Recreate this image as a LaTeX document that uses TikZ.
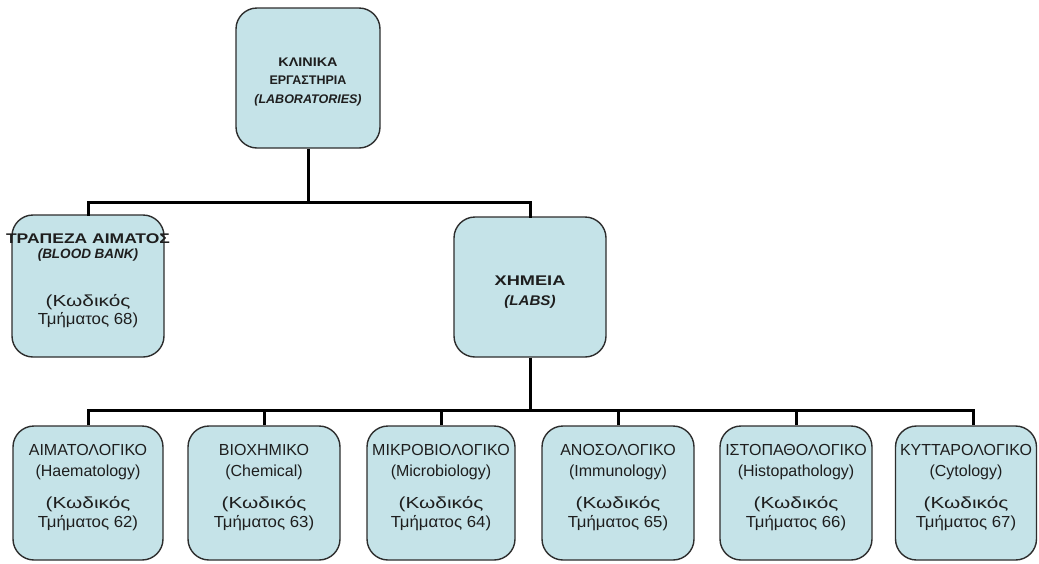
\documentclass[tikz,border=0pt]{standalone}
\usepackage{fontspec}
\usepackage{graphicx}
\setmainfont{Liberation Sans}
\definecolor{boxfill}{RGB}{197,227,232}
\definecolor{boxline}{RGB}{45,45,45}
\definecolor{ink}{RGB}{30,30,30}
\tikzset{
  unit/.style={draw=boxline, fill=boxfill, line width=1.4pt, rounded corners=21pt, inner sep=0pt},
  caption/.style={align=center, text=ink, inner sep=0pt},
  conn/.style={draw=black, line width=3pt},
}
\newcommand{\headfont}{\fontsize{12.5}{18.5}\selectfont\bfseries}
\newcommand{\bodyfont}{\fontsize{16}{20}\selectfont}
% horizontal stretch of one line of text
\newcommand{\wide}[2]{\scalebox{#1}[1]{#2}}
\begin{document}
\begin{tikzpicture}[x=1pt,y=-1pt]
\useasboundingbox (0,0) rectangle (1039,563);

% root and second level
\node[unit, minimum width=144pt, minimum height=140pt] (lab) at (308,78) {};
\node[caption, font=\headfont] (labt) at ([yshift=-3.5pt]lab.center)
  {\wide{1.15}{ΚΛΙΝΙΚΑ}\\ΕΡΓΑΣΤΗΡΙΑ\\\textit{(LABORATORIES)}};

\node[unit, minimum width=152pt, minimum height=142pt] (blood) at (88,286) {};
\node[caption, font=\bodyfont] (bloodt) at ([yshift=5.5pt]blood.center)
  {{\fontsize{14}{15}\selectfont\bfseries\wide{1.25}{ΤΡΑΠΕΖΑ ΑΙΜΑΤΟΣ}}\\[-5pt]
   {\fontsize{13.5}{15}\selectfont\bfseries\itshape (BLOOD BANK)}\\[28pt]
   \wide{1.3}{(Κωδικός}\\[-2pt]\wide{1.05}{Τμήματος 68)}};

\node[unit, minimum width=152pt, minimum height=140pt] (chem) at (530,287) {};
\node[caption, font=\fontsize{14}{20}\selectfont\bfseries] (chemt) at ([yshift=-5.5pt]chem.center)
  {\wide{1.3}{ΧΗΜΕΙΑ}\\\wide{1.08}{\textit{(LABS)}}};

% departments
\foreach \n/\cx/\w/\gr/\en/\code in {
  d1/88/150/ΑΙΜΑΤΟΛΟΓΙΚΟ/Haematology/62,
  d2/264/152/ΒΙΟΧΗΜΙΚΟ/Chemical/63,
  d3/441/148/ΜΙΚΡΟΒΙΟΛΟΓΙΚΟ/Microbiology/64,
  d4/618/152/ΑΝΟΣΟΛΟΓΙΚΟ/Immunology/65,
  d5/796/152/ΙΣΤΟΠΑΘΟΛΟΓΙΚΟ/Histopathology/66,
  d6/966/141/ΚΥΤΤΑΡΟΛΟΓΙΚΟ/Cytology/67}{
  \node[unit, minimum width=\w pt, minimum height=134pt] (\n) at (\cx,493) {};
  \node[caption, font=\bodyfont] (\n t) at ([yshift=5pt]\n.center)
    {\gr\\[1pt](\en)\\[12pt]\wide{1.3}{(Κωδικός}\\[-1pt]\wide{1.05}{Τμήματος \code)}};
}

% connectors
\coordinate (busA) at (308,202);
\coordinate (busB) at (530,410);
\draw[conn] (lab.south) -- (lab.south |- busA);
\draw[conn, line cap=rect] (blood.north) -- (blood.north |- busA) -- (chem.north |- busA) -- (chem.north);
\draw[conn] (chem.south) -- (busB);
\draw[conn] (d1.north) -- (d1.north |- busB) -- ([xshift=7pt]d6.north |- busB) -- ([xshift=7pt]d6.north);
\foreach \n in {d2,d3,d4,d5}{
  \draw[conn] (\n.north) -- (\n.north |- busB);
}
\end{tikzpicture}
\end{document}
